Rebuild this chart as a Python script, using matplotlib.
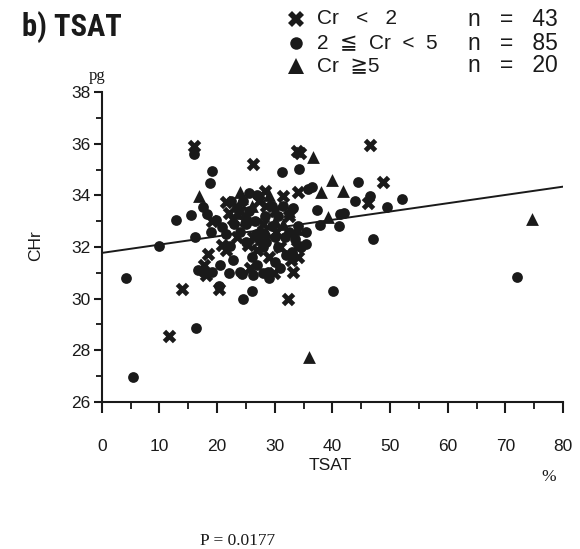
import matplotlib
matplotlib.use("Agg")
import matplotlib.pyplot as plt
import numpy as np
from matplotlib.ticker import MultipleLocator
from matplotlib import font_manager

# ---------------- data ----------------
cross_x = [16.0, 26.3, 33.8, 34.4, 46.6, 48.7, 46.2, 34.1, 31.4, 28.3, 21.6, 32.4,
           25.4, 20.8, 18.5, 18.1, 14.0, 20.4, 11.7, 32.3, 33.2, 32.9, 26.9, 26.3,
           22.0, 24.8, 28.5, 30.3, 29.0, 23.5, 19.2, 31.0, 28.0, 24.0, 27.3, 33.8,
           30.0, 25.8, 29.8, 21.5, 34.0, 17.8, 22.8]
cross_y = [35.93, 35.22, 35.74, 35.65, 35.96, 34.54, 33.70, 34.15, 33.98, 34.19, 33.74, 33.20,
           32.06, 32.06, 31.74, 30.90, 30.39, 30.39, 28.54, 29.97, 31.03, 31.48, 31.87, 32.38,
           33.30, 33.00, 33.60, 32.60, 31.60, 32.40, 33.00, 32.00, 32.90, 33.40, 33.80, 32.00,
           33.40, 31.20, 31.00, 31.90, 31.60, 31.30, 33.10]

circle_x = [16.0, 19.1, 18.8, 31.2, 34.2, 44.5, 43.9, 42.0, 37.3, 37.8, 41.2, 12.9,
            15.5, 16.2, 9.9, 4.3, 5.4, 16.4, 24.5, 26.0, 40.1, 35.4, 35.5, 22.8,
            22.2, 16.7, 19.1, 20.3, 72.1, 52.0, 49.4, 46.5, 47.1, 35.8, 36.4, 41.3,
            17.6, 18.2, 19.9, 20.8, 24.0, 24.3, 26.3, 28.9, 17.6, 22.5, 23.5, 24.5,
            25.5, 26.5, 27.5, 28.5, 29.5, 30.5, 31.5, 32.5, 33.5, 24.0, 25.0, 26.0,
            27.0, 28.0, 29.0, 30.0, 31.0, 32.0, 33.0, 34.0, 27.0, 29.5, 25.5, 23.0,
            21.5, 30.5, 28.3, 33.2, 26.8, 31.8, 22.0, 20.5, 19.0, 34.5, 28.0, 25.0,
            30.0]
circle_y = [35.60, 34.96, 34.50, 34.90, 35.03, 34.54, 33.80, 33.31, 33.42, 32.87, 32.80, 33.03,
            33.26, 32.38, 32.02, 30.80, 26.97, 28.86, 29.97, 30.30, 30.30, 32.13, 32.58, 31.48,
            32.02, 31.12, 31.03, 30.50, 30.84, 33.87, 33.55, 33.96, 32.30, 34.25, 34.32, 33.29,
            33.54, 33.29, 33.03, 32.77, 31.03, 30.97, 30.90, 31.03, 31.03, 33.80, 33.50, 33.80,
            33.40, 33.00, 32.60, 32.20, 32.80, 33.20, 33.60, 32.60, 32.30, 32.60, 32.20, 31.60,
            31.30, 31.00, 30.80, 31.40, 31.20, 31.70, 31.80, 32.80, 34.00, 33.60, 34.10, 32.90,
            32.50, 32.00, 33.20, 33.50, 32.50, 32.40, 31.00, 31.30, 32.60, 32.00, 32.00, 32.90,
            32.40]

tri_x = [16.9, 24.0, 36.7, 40.0, 41.9, 38.0, 39.3, 33.9, 36.0, 74.6, 24.3, 30.0,
         27.5, 29.0, 25.0, 31.5, 28.5, 26.0, 32.5, 23.5]
tri_y = [33.96, 34.12, 35.48, 34.58, 34.16, 34.15, 33.16, 32.70, 27.74, 33.07, 33.90, 33.00,
         32.30, 34.00, 33.20, 32.90, 32.60, 33.60, 33.40, 33.30]

fit_x = [0, 80]
fit_y = [31.77, 34.34]

legend_labels = ["Cr   <   2", "2  \u2266  Cr  <  5", "Cr  \u22675"]
legend_n = ["n   =   43", "n   =   85", "n   =   20"]

# ---------------- figure ----------------
W, H = 580, 549
fig = plt.figure(figsize=(W / 100, H / 100), dpi=100)
ax = fig.add_axes([101.7 / W, 1 - 401.7 / H, (563 - 101.7) / W, (401.7 - 92.3) / H])

sans = ['Liberation Sans', 'DejaVu Sans', 'Noto Sans CJK JP']
serif = ['Liberation Serif', 'DejaVu Serif']

k = '#1a1a1a'
ax.scatter(circle_x, circle_y, marker='o', s=60, color=k, linewidths=0, zorder=3)
ax.scatter(cross_x, cross_y, marker='X', s=95, color=k, linewidths=0, zorder=3)
ax.scatter(tri_x, tri_y, marker='^', s=85, color=k, linewidths=0, zorder=3)
ax.plot(fit_x, fit_y, color=k, lw=1.4, zorder=2)

ax.set_xlim(0, 80)
ax.set_ylim(26, 38)
ax.spines['top'].set_visible(False)
ax.spines['right'].set_visible(False)
for s in ['left', 'bottom']:
    ax.spines[s].set_linewidth(1.5)
    ax.spines[s].set_color(k)
ax.xaxis.set_major_locator(MultipleLocator(10))
ax.xaxis.set_minor_locator(MultipleLocator(5))
ax.yaxis.set_major_locator(MultipleLocator(2))
ax.yaxis.set_minor_locator(MultipleLocator(1))
ax.tick_params(axis='x', which='major', direction='out', length=8, width=1.5, pad=19,
               labelsize=12.5, colors=k)
ax.tick_params(axis='x', which='minor', direction='out', length=5, width=1.2)
ax.tick_params(axis='y', which='major', direction='out', length=6, width=1.5, pad=2,
               labelsize=12.5, colors=k)
ax.tick_params(axis='y', which='minor', direction='out', length=4, width=1.2)
for lab in ax.get_xticklabels() + ax.get_yticklabels():
    lab.set_fontfamily(sans)

ax.patch.set_visible(False)

# title in a condensed heavy face if available
avail = {f.name for f in font_manager.fontManager.ttflist}
title_fams = [f for f in ['Impact', 'Liberation Sans Narrow', 'DejaVu Sans Condensed',
                          'Roboto Condensed', 'DejaVu Sans'] if f in avail] or ['DejaVu Sans']
fig.text(22 / W, 1 - 27 / H, "b) TSAT", family=title_fams, fontstretch='condensed',
         fontsize=22, fontweight='heavy', va='center', ha='left', color=k)
fig.text(89 / W, 1 - 76 / H, "pg", family=serif, fontsize=12, va='center', ha='left', color=k)
fig.text(36 / W, 1 - 246 / H, "CHr", family=sans, fontsize=12.5, rotation=90,
         va='center', ha='center', color=k)
fig.text(330 / W, 1 - 466 / H, "TSAT", family=sans, fontsize=12.5, va='center',
         ha='center', color=k)
fig.text(549 / W, 1 - 477 / H, "%", family=serif, fontsize=12.5, va='center',
         ha='center', color=k)
fig.text(200 / W, 1 - 541 / H, "P = 0.0177", family=serif, fontsize=12.5, va='center',
         ha='left', color=k)

# legend
rows_y = [19, 43, 66]
markers = ['X', 'o', '^']
msizes = [11, 9, 11]
for yy, m, ms, lab, n in zip(rows_y, markers, msizes, legend_labels, legend_n):
    fig.lines.append(plt.Line2D([296 / W], [1 - yy / H], marker=m, markersize=ms,
                                color=k, markeredgewidth=0, linestyle='none',
                                transform=fig.transFigure))
    fig.text(317 / W, 1 - yy / H, lab, family=sans, fontsize=15, va='center',
             ha='left', color=k)
    fig.text(468 / W, 1 - yy / H, n, family=sans, fontsize=16.5, va='center',
             ha='left', color=k)

fig.savefig("out.png", dpi=100)
